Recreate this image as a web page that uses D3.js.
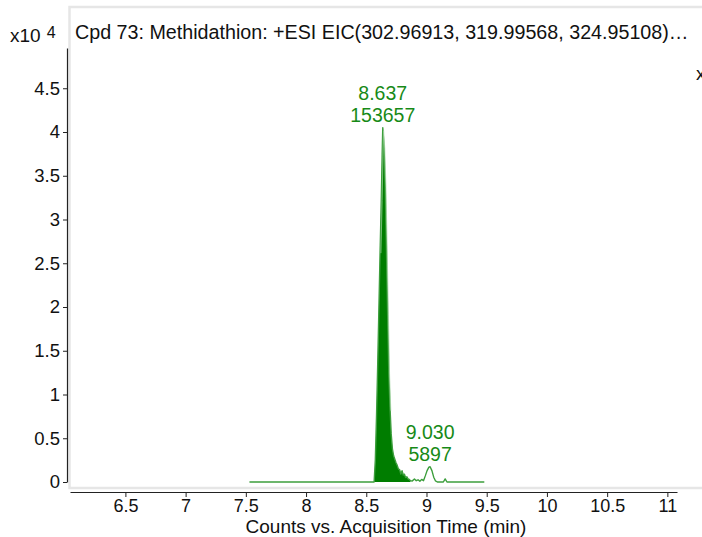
<!DOCTYPE html>
<html>
<head>
<meta charset="utf-8">
<script src="https://cdn.jsdelivr.net/npm/d3@7/dist/d3.min.js"></script>
<style>
  html, body { margin: 0; padding: 0; background: #fff; overflow: hidden; }
  svg { display: block; font-family: "Liberation Sans", Arial, Helvetica, sans-serif; }
</style>
</head>
<body>
<svg id="chart" width="702" height="537"></svg>
<script>
// Extracted ion chromatogram: acquisition time (min) and abundance (counts)
const traceTime = [
  7.53, 8.55, 8.565, 8.575, 8.585, 8.595, 8.605, 8.615, 8.625, 8.632, 8.637,
  8.647, 8.657, 8.667, 8.677, 8.687, 8.697, 8.707, 8.717, 8.727, 8.737,
  8.747, 8.757, 8.767, 8.777, 8.787, 8.797, 8.807, 8.817, 8.827, 8.837,
  8.847, 8.857, 8.867, 8.88, 8.90, 8.915, 8.93, 8.945, 8.96, 8.975, 8.99,
  9.005, 9.02, 9.03, 9.045, 9.06, 9.075, 9.09, 9.14, 9.155, 9.17, 9.48
];
const traceCounts = [
  0, 0, 0, 2500, 7500, 13500, 20000, 26500, 32500, 37500, 40500,
  38500, 34000, 27000, 19500, 12500, 8500, 5500, 3800, 3000, 2600,
  2200, 1900, 1500, 1400, 900, 1300, 800, 900, 500, 600,
  350, 300, 150, 100, 350, 150, 250, 80, 300, 150, 700,
  1300, 1700, 1750, 1300, 550, 120, 0, 0, 350, 0, 0
];

// Integrated peak window (min)
const integStart = 8.565;
const integEnd = 8.867;

// Peak annotations: retention time and integrated area
const peakRT = [8.637, 9.030];
const peakArea = [153657, 5897];
const peakLabelRT = ["8.637", "9.030"];

// Axis ticks
const xTicks = [6.5, 7, 7.5, 8, 8.5, 9, 9.5, 10, 10.5, 11];
const yTicks = [0, 5000, 10000, 15000, 20000, 25000, 30000, 35000, 40000, 45000];
const yTickLabels = ["0", "0.5", "1", "1.5", "2", "2.5", "3", "3.5", "4", "4.5"];

const titleText = "Cpd 73: Methidathion: +ESI EIC(302.96913, 319.99568, 324.95108)\u2026";
const xAxisTitle = "Counts vs. Acquisition Time (min)";

const svg = d3.select("#chart");
const trace = traceTime.map((t, i) => ({ t, c: traceCounts[i] }));

const x = d3.scaleLinear().domain([6.04, 11.08]).range([70, 677]);
const y = d3.scaleLinear().domain([0, 49600]).range([482, 48]);

// Plot frame
svg.append("rect")
  .attr("x", 69.5).attr("y", 7)
  .attr("width", 700).attr("height", 481)
  .attr("fill", "#fff")
  .attr("stroke", "#e6e6e6")
  .attr("stroke-width", 2.5);

// Filled integration area
const inWindow = trace.filter(d => d.t >= integStart && d.t <= integEnd);
svg.append("path")
  .datum(inWindow)
  .attr("fill", "#007d00")
  .attr("stroke", "none")
  .attr("d", d3.area().x(d => x(d.t)).y0(y(0)).y1(d => y(d.c)));

// Trace line
svg.append("path")
  .datum(trace)
  .attr("fill", "none")
  .attr("stroke", "#3c9e3c")
  .attr("stroke-width", 1.4)
  .attr("stroke-linejoin", "round")
  .attr("d", d3.line().x(d => x(d.t)).y(d => y(d.c)));

// Thin highlight along the apex of the integrated peak
svg.append("path")
  .datum(inWindow.filter(d => d.t >= 8.61 && d.t <= 8.70))
  .attr("fill", "none")
  .attr("stroke", "#9fd39f")
  .attr("stroke-width", 0.7)
  .attr("d", d3.line().x(d => x(d.t) + 0.8).y(d => y(d.c) + 3));

// Axes
const axisColor = "#222";
const yAxis = svg.append("g")
  .attr("transform", "translate(67,0)")
  .call(d3.axisLeft(y).tickValues(yTicks)
    .tickFormat((d, i) => yTickLabels[i])
    .tickSize(4).tickSizeOuter(0).tickPadding(3));

const xAxis = svg.append("g")
  .attr("transform", "translate(0,492)")
  .call(d3.axisBottom(x).tickValues(xTicks)
    .tickFormat(d3.format("~g"))
    .tickSize(5).tickSizeOuter(0).tickPadding(2));

[yAxis, xAxis].forEach(g => {
  g.attr("font-family", null).attr("font-size", null);
  g.select(".domain").attr("stroke", axisColor).attr("stroke-width", 1.2);
  g.selectAll(".tick line").attr("stroke", axisColor);
  g.selectAll(".tick text").attr("fill", "#111");
});
yAxis.selectAll(".tick text").style("font-size", "18.5px");
xAxis.selectAll(".tick text").style("font-size", "18px");

// Axis exponent marker
const expo = svg.append("text")
  .attr("x", 10).attr("y", 42)
  .attr("fill", "#111")
  .style("font-size", "19px");
expo.append("tspan").text("x10");
expo.append("tspan").attr("dx", 6).attr("dy", -4).style("font-size", "16px").text("4");

// Title
svg.append("text")
  .attr("x", 75).attr("y", 39)
  .attr("fill", "#111")
  .style("font-size", "19.7px")
  .text(titleText);

// X axis title
svg.append("text")
  .attr("x", 386).attr("y", 533)
  .attr("text-anchor", "middle")
  .attr("fill", "#111")
  .style("font-size", "19px")
  .text(xAxisTitle);

// Peak labels positioned at each apex of the trace
peakRT.forEach((rt, i) => {
  const near = trace.reduce((a, b) => Math.abs(b.t - rt) < Math.abs(a.t - rt) ? b : a);
  const px = x(rt);
  const py = y(near.c);
  const g = svg.append("g").attr("fill", "#178a17").style("font-size", "19.5px")
    .attr("text-anchor", "middle");
  g.append("text").attr("x", px).attr("y", py - 28).text(peakLabelRT[i]);
  g.append("text").attr("x", px).attr("y", py - 6).text(String(peakArea[i]));
});

// Partially visible marker at the right edge
svg.append("text")
  .attr("x", 696).attr("y", 80)
  .attr("fill", "#111")
  .style("font-size", "19px")
  .text("x");
</script>
</body>
</html>
